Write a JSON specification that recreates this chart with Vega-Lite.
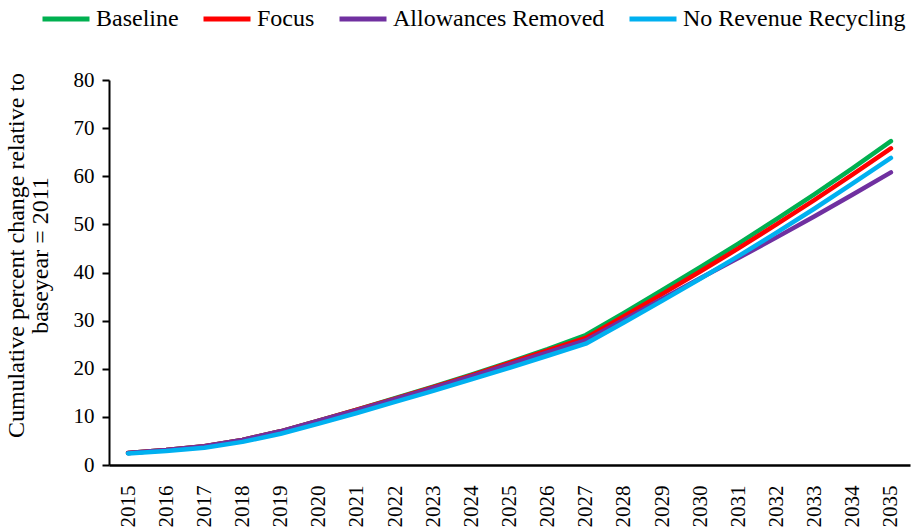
{
  "$schema": "https://vega.github.io/schema/vega-lite/v6.json",
  "width": 801,
  "height": 385,
  "autosize": "none",
  "padding": {"left": 109, "top": 80, "right": 1, "bottom": 63},
  "background": "white",
  "data": {
    "values": [
      {"year": "2015", "Baseline": 2.5, "Focus": 2.5, "Allowances Removed": 2.5, "No Revenue Recycling": 2.4},
      {"year": "2016", "Baseline": 3.1, "Focus": 3.1, "Allowances Removed": 3.1, "No Revenue Recycling": 2.9},
      {"year": "2017", "Baseline": 3.9, "Focus": 3.9, "Allowances Removed": 3.9, "No Revenue Recycling": 3.6},
      {"year": "2018", "Baseline": 5.2, "Focus": 5.2, "Allowances Removed": 5.2, "No Revenue Recycling": 4.8},
      {"year": "2019", "Baseline": 7.0, "Focus": 7.0, "Allowances Removed": 7.0, "No Revenue Recycling": 6.5},
      {"year": "2020", "Baseline": 9.2, "Focus": 9.2, "Allowances Removed": 9.2, "No Revenue Recycling": 8.6},
      {"year": "2021", "Baseline": 11.5, "Focus": 11.5, "Allowances Removed": 11.4, "No Revenue Recycling": 10.8},
      {"year": "2022", "Baseline": 13.9, "Focus": 13.8, "Allowances Removed": 13.7, "No Revenue Recycling": 13.1},
      {"year": "2023", "Baseline": 16.3, "Focus": 16.2, "Allowances Removed": 16.0, "No Revenue Recycling": 15.4},
      {"year": "2024", "Baseline": 18.8, "Focus": 18.6, "Allowances Removed": 18.4, "No Revenue Recycling": 17.8},
      {"year": "2025", "Baseline": 21.4, "Focus": 21.2, "Allowances Removed": 20.9, "No Revenue Recycling": 20.2},
      {"year": "2026", "Baseline": 24.1, "Focus": 23.8, "Allowances Removed": 23.4, "No Revenue Recycling": 22.7},
      {"year": "2027", "Baseline": 27.0, "Focus": 26.4, "Allowances Removed": 25.9, "No Revenue Recycling": 25.2},
      {"year": "2028", "Baseline": 31.6, "Focus": 30.9, "Allowances Removed": 30.2, "No Revenue Recycling": 29.6},
      {"year": "2029", "Baseline": 36.3, "Focus": 35.5, "Allowances Removed": 34.5, "No Revenue Recycling": 34.1},
      {"year": "2030", "Baseline": 41.1, "Focus": 40.2, "Allowances Removed": 38.8, "No Revenue Recycling": 38.7},
      {"year": "2031", "Baseline": 46.0, "Focus": 45.0, "Allowances Removed": 43.0, "No Revenue Recycling": 43.4},
      {"year": "2032", "Baseline": 51.1, "Focus": 50.0, "Allowances Removed": 47.3, "No Revenue Recycling": 48.3},
      {"year": "2033", "Baseline": 56.3, "Focus": 55.1, "Allowances Removed": 51.7, "No Revenue Recycling": 53.3},
      {"year": "2034", "Baseline": 61.7, "Focus": 60.4, "Allowances Removed": 56.2, "No Revenue Recycling": 58.5},
      {"year": "2035", "Baseline": 67.3, "Focus": 65.8, "Allowances Removed": 60.8, "No Revenue Recycling": 63.8}
    ]
  },
  "transform": [
    {"fold": ["Baseline", "Focus", "Allowances Removed", "No Revenue Recycling"], "as": ["scenario", "value"]}
  ],
  "mark": {"type": "line", "strokeWidth": 4.5, "strokeCap": "round", "strokeJoin": "round"},
  "encoding": {
    "x": {
      "field": "year",
      "type": "ordinal",
      "scale": {"type": "point", "padding": 0.5},
      "axis": {
        "title": null,
        "labelAngle": -90,
        "ticks": false,
        "labelPadding": 20,
        "domainColor": "black",
        "domainWidth": 2.5,
        "labelFont": "Liberation Serif",
        "labelFontSize": 21,
        "labelColor": "black"
      }
    },
    "y": {
      "field": "value",
      "type": "quantitative",
      "scale": {"domain": [0, 80], "nice": false, "zero": true},
      "axis": {
        "values": [0, 10, 20, 30, 40, 50, 60, 70, 80],
        "grid": false,
        "title": ["Cumulative percent change relative to", "baseyear = 2011"],
        "titleFont": "Liberation Serif",
        "titleFontSize": 24,
        "titleFontWeight": "normal",
        "titleColor": "black",
        "titleLineHeight": 24,
        "titleX": -81,
        "titleY": 175,
        "titleAngle": -90,
        "titleAlign": "center",
        "titleBaseline": "bottom",
        "domainColor": "black",
        "domainWidth": 2,
        "tickColor": "black",
        "tickWidth": 2,
        "tickSize": 7,
        "labelPadding": 8,
        "labelFont": "Liberation Serif",
        "labelFontSize": 21,
        "labelColor": "black"
      }
    },
    "color": {
      "field": "scenario",
      "type": "nominal",
      "scale": {
        "domain": ["Baseline", "Focus", "Allowances Removed", "No Revenue Recycling"],
        "range": ["#00B050", "#FF0000", "#7030A0", "#00B0F0"]
      },
      "legend": {
        "title": null,
        "orient": "none",
        "direction": "horizontal",
        "legendX": -69,
        "legendY": -87,
        "padding": 0,
        "symbolType": "stroke",
        "symbolSize": 2209,
        "symbolStrokeWidth": 5,
        "labelFont": "Liberation Serif",
        "labelFontSize": 24,
        "labelLimit": 0,
        "labelColor": "black",
        "labelOffset": 4,
        "columnPadding": 14
      }
    }
  },
  "config": {"view": {"stroke": null}}
}
